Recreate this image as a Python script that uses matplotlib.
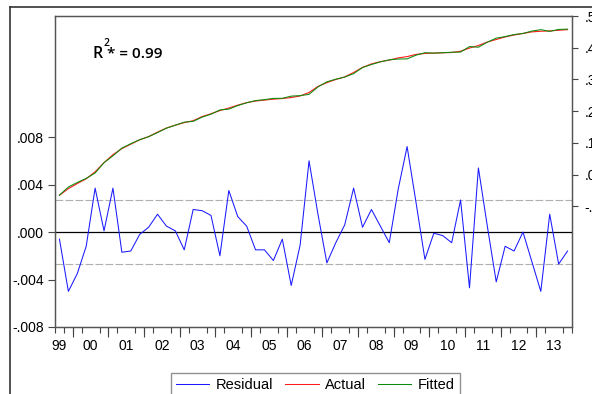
import numpy as np
import matplotlib.pyplot as plt
from matplotlib.lines import Line2D

plt.rcParams['font.family'] = ['Liberation Sans', 'DejaVu Sans']

# quarterly sample 1999Q3 - 2013Q4
residual = [-0.0006, -0.0050, -0.0035, -0.0012, 0.0037, 0.0001, 0.0037, -0.0017,
            -0.0016, -0.0002, 0.0004, 0.0015, 0.0005, 0.0001, -0.0015, 0.0019,
            0.0018, 0.0014, -0.0020, 0.0035, 0.0013, 0.0005, -0.0015, -0.0015,
            -0.0024, -0.0006, -0.0045, -0.0011, 0.0060, 0.0015, -0.0026, -0.0009,
            0.0006, 0.0037, 0.0004, 0.0019, 0.0005, -0.0009, 0.0036, 0.0072,
            0.0025, -0.0023, -0.0001, -0.0003, -0.0009, 0.0027, -0.0047, 0.0054,
            0.0005, -0.0042, -0.0012, -0.0016, 0.0000, -0.0025, -0.0050, 0.0015,
            -0.0027, -0.0016]
actual = [-0.065, -0.044, -0.028, -0.013, 0.009, 0.038, 0.063, 0.082,
          0.096, 0.110, 0.120, 0.134, 0.147, 0.156, 0.164, 0.170,
          0.183, 0.192, 0.202, 0.210, 0.219, 0.227, 0.232, 0.235,
          0.238, 0.240, 0.243, 0.248, 0.259, 0.278, 0.290, 0.300,
          0.308, 0.322, 0.338, 0.349, 0.356, 0.361, 0.368, 0.372,
          0.379, 0.382, 0.383, 0.384, 0.385, 0.389, 0.399, 0.407,
          0.418, 0.426, 0.434, 0.440, 0.445, 0.450, 0.452, 0.453,
          0.455, 0.457]
years = ['99', '00', '01', '02', '03', '04', '05', '06',
         '07', '08', '09', '10', '11', '12', '13']
resid_se = 0.0027

residual = np.array(residual)
actual = np.array(actual)
fitted = actual - residual
t = np.arange(len(actual))

# label under the first obs for 1999, mid-year for the others
year_pos = [0] + [3.5 + 4 * k for k in range(len(years) - 1)]
year_start = [1.5 + 4 * k for k in range(len(years) - 1)]
qtr_bounds = np.arange(-0.5, len(t), 1.0)

fig = plt.figure(figsize=(5.92, 3.94), dpi=100)
ax = fig.add_axes([55 / 592, 1 - 327 / 394, 517 / 592, 311 / 394])
ax2 = ax.twinx()

ax.axhline(0, color='black', lw=0.9, zorder=1)
for v in (resid_se, -resid_se):
    ax.axhline(v, color='#b0b0b0', lw=0.8, dashes=(7, 2), zorder=1)
ax.plot(t, residual, color='#1a1aff', lw=0.75, zorder=2)

ax2.plot(t, actual, color='#ff1a1a', lw=0.8)
ax2.plot(t, fitted, color='#0a8a0a', lw=0.75)

ax.set_xlim(-0.5, len(t) - 0.5)
ax.set_ylim(-0.008, 0.0182)
ax2.set_ylim(-0.48, 0.5)

ax.set_yticks([-0.008, -0.004, 0.0, 0.004, 0.008])
ax.set_yticklabels(['-.008', '-.004', '.000', '.004', '.008'])
ax2.set_yticks([-0.1, 0.0, 0.1, 0.2, 0.3, 0.4, 0.5])
ax2.set_yticklabels(['-.1', '.0', '.1', '.2', '.3', '.4', '.5'])

ax.set_xticks(year_pos)
ax.set_xticklabels(years)
ax.set_xticks(qtr_bounds, minor=True)
ax.tick_params(axis='x', which='major', length=0, pad=9, labelsize=10)
ax.tick_params(axis='x', which='minor', length=4, width=0.8, color='#444444')
ax.tick_params(axis='y', length=5, width=0.8, pad=3, labelsize=10, color='#444444')
ax2.tick_params(axis='y', length=4, width=0.8, pad=5, labelsize=10, color='#444444')

# longer ticks at each year start
sec = ax.secondary_xaxis('bottom')
sec.set_xticks(year_start)
sec.set_xticklabels([])
sec.tick_params(length=7, width=0.8, color='#444444')
sec.spines['bottom'].set_visible(False)

for a in (ax, ax2):
    for s in a.spines.values():
        s.set_color('#555555')
        s.set_linewidth(0.9)

r2_font = dict(fontweight='semibold', family=['Open Sans', 'DejaVu Sans'])
fig.text(92.5 / 592, 1 - 58.5 / 394, 'R', fontsize=11.5, **r2_font)
fig.text(103.5 / 592, 1 - 45.5 / 394, '2', fontsize=7.5, **r2_font)
fig.text(107 / 592, 1 - 58.5 / 394, '* = 0.99', fontsize=11, **r2_font)

handles = [Line2D([], [], color='#1a1aff', lw=0.75),
           Line2D([], [], color='#ff1a1a', lw=0.75),
           Line2D([], [], color='#0a8a0a', lw=0.75)]
leg = fig.legend(handles, ['Residual', 'Actual', 'Fitted'], ncol=3,
                 loc='upper left', bbox_to_anchor=(170.7 / 592, 1 - 373.3 / 394),
                 borderaxespad=0, fontsize=10.5, frameon=True, fancybox=False,
                 edgecolor='#777777', handlelength=2.3, handletextpad=0.45,
                 columnspacing=0.8, borderpad=0.35)
leg.get_frame().set_linewidth(1.0)

# outer graph frame
fig.add_artist(Line2D([10 / 592, 10 / 592], [0, 1 - 6.5 / 394],
                      color='#333333', lw=1.2, transform=fig.transFigure))
fig.add_artist(Line2D([10 / 592, 1], [1 - 6.5 / 394, 1 - 6.5 / 394],
                      color='#333333', lw=1.2, transform=fig.transFigure))

fig.savefig('out.png', dpi=100)
